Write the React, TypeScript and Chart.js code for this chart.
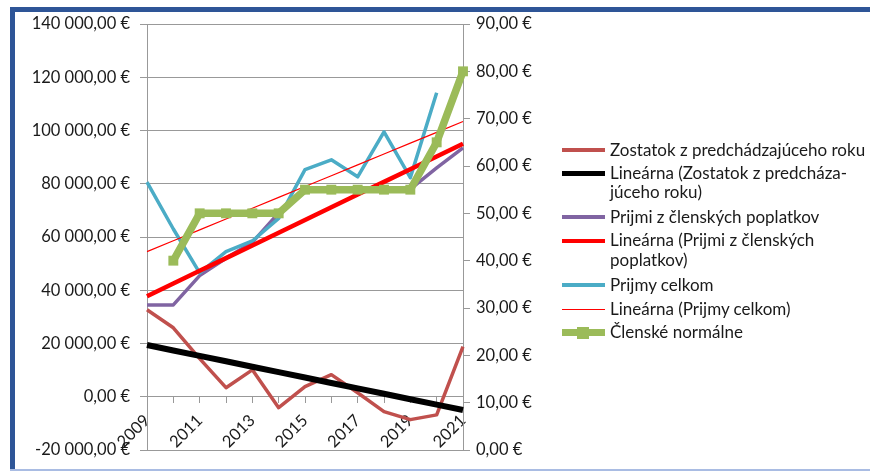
import React, { useEffect, useRef } from "react";
import { Chart, registerables } from "chart.js";

Chart.register(...registerables);

const years = ["2009", "2010", "2011", "2012", "2013", "2014", "2015", "2016", "2017", "2018", "2019", "2020", "2021"];
const zostatok = [32700, 25900, 14300, 3400, 10100, -4100, 3800, 8300, 1500, -5600, -8600, -6800, 18800];
const prijmiClenske = [34500, 34500, 45500, 52000, 58000, 69000, 78000, 78000, 78000, 78000, 78000, 86000, 93500];
const prijmyCelkom = [80600, 63000, 46500, 54500, 58500, 67000, 85300, 89000, 82600, 99500, 82300, 114200, null];
const clenskeNormalne = [null, 40, 50, 50, 50, 50, 55, 55, 55, 55, 55, 65, 80];

const seriesNames = [
  "Zostatok z predchádzajúceho roku",
  "Lineárna (Zostatok z predchádzajúceho roku)",
  "Prijmi z členských poplatkov",
  "Lineárna (Prijmi z členských poplatkov)",
  "Prijmy celkom",
  "Lineárna (Prijmy celkom)",
  "Členské normálne",
];
const legendLines = [
  ["Zostatok z predchádzajúceho roku"],
  ["Lineárna (Zostatok z predcháza-", "júceho roku)"],
  ["Prijmi z členských poplatkov"],
  ["Lineárna (Prijmi z členských", "poplatkov)"],
  ["Prijmy celkom"],
  ["Lineárna (Prijmy celkom)"],
  ["Členské normálne"],
];

const leftMin = -20000;
const leftMax = 140000;
const leftStep = 20000;
const rightMin = 0;
const rightMax = 90;
const rightStep = 10;

function linTrend(vals: (number | null)[]): number[] {
  const pts: [number, number][] = [];
  vals.forEach((v, i) => {
    if (v !== null && v !== undefined) pts.push([i, v]);
  });
  const n = pts.length;
  const mx = pts.reduce((a, p) => a + p[0], 0) / n;
  const my = pts.reduce((a, p) => a + p[1], 0) / n;
  let sxy = 0;
  let sxx = 0;
  pts.forEach(([x, y]) => {
    sxy += (x - mx) * (y - my);
    sxx += (x - mx) * (x - mx);
  });
  const slope = sxy / sxx;
  const icpt = my - slope * mx;
  return vals.map((_, i) => icpt + slope * i);
}

function eur(v: number): string {
  const neg = v < 0;
  const [ip, dp] = Math.abs(v).toFixed(2).split(".");
  const grouped = ip.replace(/\B(?=(\d{3})+(?!\d))/g, " ");
  return (neg ? "-" : "") + grouped + "," + dp + " €";
}

const FONT = "Lato, 'Noto Sans', sans-serif";
const GRID = "#999999";
const TEXT = "#1a1a1a";
const AXIS_SIZE = 16.5;
const LEGEND_SIZE = 17;

const legendStyle = [
  { color: "#C0504D", h: 4 },
  { color: "#000000", h: 5 },
  { color: "#8064A2", h: 4 },
  { color: "#FF0000", h: 4 },
  { color: "#4BACC6", h: 4 },
  { color: "#FF0000", h: 1.5 },
  { color: "#9BBB59", h: 7, marker: true },
];
const legendCenters = [150, 173.3, 217.3, 240.7, 285, 309.3, 332.7];

export default function App() {
  const ref = useRef<HTMLCanvasElement | null>(null);

  useEffect(() => {
    if (!ref.current) return;
    const chart = new Chart(ref.current, {
      type: "line",
      data: {
        labels: years,
        datasets: [
          {
            label: seriesNames[0],
            data: zostatok,
            yAxisID: "y",
            borderColor: "#C0504D",
            backgroundColor: "#C0504D",
            borderWidth: 3.5,
            pointRadius: 0,
            order: 6,
          },
          {
            label: seriesNames[1],
            data: linTrend(zostatok),
            yAxisID: "y",
            borderColor: "#000000",
            backgroundColor: "#000000",
            borderWidth: 6,
            pointRadius: 0,
            order: 1,
          },
          {
            label: seriesNames[2],
            data: prijmiClenske,
            yAxisID: "y",
            borderColor: "#8064A2",
            backgroundColor: "#8064A2",
            borderWidth: 3.5,
            pointRadius: 0,
            order: 5,
          },
          {
            label: seriesNames[3],
            data: linTrend(prijmiClenske),
            yAxisID: "y",
            borderColor: "#FF0000",
            backgroundColor: "#FF0000",
            borderWidth: 4.5,
            pointRadius: 0,
            order: 2,
          },
          {
            label: seriesNames[4],
            data: prijmyCelkom,
            yAxisID: "y",
            borderColor: "#4BACC6",
            backgroundColor: "#4BACC6",
            borderWidth: 3.5,
            pointRadius: 0,
            order: 4,
          },
          {
            label: seriesNames[5],
            data: linTrend(prijmyCelkom),
            yAxisID: "y",
            borderColor: "#FF0000",
            backgroundColor: "#FF0000",
            borderWidth: 1.2,
            pointRadius: 0,
            order: 3,
          },
          {
            label: seriesNames[6],
            data: clenskeNormalne,
            yAxisID: "y1",
            borderColor: "#9BBB59",
            backgroundColor: "#9BBB59",
            borderWidth: 7.5,
            pointStyle: "rect",
            pointRadius: 7,
            pointBorderWidth: 0,
            pointBackgroundColor: "#9BBB59",
            order: 0,
            clip: false,
          },
        ] as any,
      },
      options: {
        animation: false,
        responsive: false,
        maintainAspectRatio: false,
        elements: { line: { tension: 0, borderJoinStyle: "round" } },
        layout: { padding: { left: 0, right: 870 - 463 - 80, top: 24, bottom: 21 } },
        plugins: { legend: { display: false }, tooltip: { enabled: false }, title: { display: false } },
        scales: {
          x: {
            type: "category",
            position: { y: 0 } as any,
            offset: false,
            grid: { display: true, drawOnChartArea: false, drawTicks: true, tickLength: 6, color: GRID },
            border: { display: true, color: GRID },
            ticks: {
              autoSkip: false,
              minRotation: 45,
              maxRotation: 45,
              padding: 8,
              color: TEXT,
              font: { family: FONT, size: AXIS_SIZE },
              callback: (_v: any, i: number) => (i % 2 === 0 ? years[i] : ""),
            },
            afterFit: (s: any) => {
              s.height = 0;
            },
          },
          y: {
            position: "left",
            min: leftMin,
            max: leftMax,
            ticks: { stepSize: leftStep, padding: 10, color: TEXT, font: { family: FONT, size: AXIS_SIZE }, callback: (v: any) => eur(Number(v)) },
            grid: { color: GRID, drawTicks: true, tickLength: 7 },
            border: { display: true, color: GRID },
            afterFit: (s: any) => {
              s.width = 147;
            },
          },
          y1: {
            position: "right",
            min: rightMin,
            max: rightMax,
            ticks: { stepSize: rightStep, padding: 6, color: TEXT, font: { family: FONT, size: AXIS_SIZE }, callback: (v: any) => eur(Number(v)) },
            grid: { drawOnChartArea: false, drawTicks: true, tickLength: 7, color: GRID },
            border: { display: true, color: GRID },
            afterFit: (s: any) => {
              s.width = 80;
            },
          },
        },
      } as any,
    });
    return () => chart.destroy();
  }, []);

  return (
    <div style={{ position: "absolute", left: 0, top: 0, width: 870, height: 471, background: "#fff", overflow: "hidden", fontFamily: FONT }}>
      <canvas ref={ref} width={870} height={471} style={{ position: "absolute", left: 0, top: 0, width: 870, height: 471 }} />
      <div style={{ position: "absolute", left: 10, top: 7, width: 860, height: 5, background: "#2E5597" }} />
      <div style={{ position: "absolute", left: 10, top: 7, width: 5, height: 462, background: "#2E5597" }} />
      <div style={{ position: "absolute", left: 10, top: 469, width: 860, height: 2, background: "#A9BCE3" }} />
      {legendLines.map((lines, k) => {
        const st = legendStyle[k];
        const c = legendCenters[k];
        return (
          <div key={k}>
            <div style={{ position: "absolute", left: 562, top: c - st.h / 2, width: 43, height: st.h, background: st.color }} />
            {st.marker ? (
              <div style={{ position: "absolute", left: 577, top: c - 6, width: 12, height: 12, background: st.color }} />
            ) : null}
            <div
              style={{
                position: "absolute",
                left: 610,
                top: c - 10.5,
                fontSize: LEGEND_SIZE,
                lineHeight: "19.5px",
                color: TEXT,
                whiteSpace: "nowrap",
              }}
            >
              {lines.map((l, j) => (
                <div key={j}>{l}</div>
              ))}
            </div>
          </div>
        );
      })}
    </div>
  );
}
